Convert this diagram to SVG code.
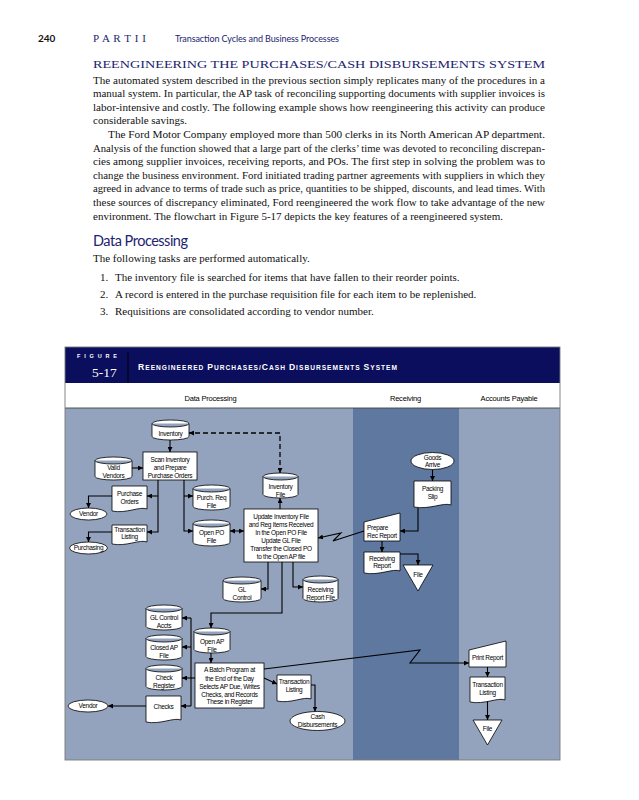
<svg xmlns="http://www.w3.org/2000/svg" width="639" height="800" viewBox="0 0 639 800">
<style>
.pg{font-family:"Liberation Serif","Times New Roman",serif;font-size:11px;fill:#111}
.nv{fill:#1c2470}
.hs{font-family:Lato,"Liberation Sans",sans-serif}
.ft{font-family:"Liberation Sans",Arial,sans-serif;font-size:6.5px;letter-spacing:-0.3px;text-anchor:middle;fill:#000}
.lh{font-family:"Liberation Sans",Arial,sans-serif;font-size:7.5px;letter-spacing:-0.2px;text-anchor:middle;fill:#000}
.sh{fill:#fff;stroke:#000;stroke-width:0.8}
.cn{fill:none;stroke:#000;stroke-width:1.1}
.ar{marker-end:url(#ah)}
.dash{fill:none;stroke:#000;stroke-width:1.3;stroke-dasharray:5,3;marker-start:url(#ah);marker-end:url(#ah)}
</style>
<defs>
<marker id="ah" viewBox="0 0 10 10" refX="10" refY="5" markerWidth="5" markerHeight="5" markerUnits="userSpaceOnUse" orient="auto-start-reverse"><path d="M0,0 L10,5 L0,10 Z" fill="#000"/></marker>
</defs>
<rect width="639" height="800" fill="#fff"/>

<!-- page header -->
<text x="38" y="42" class="hs" font-size="10" font-weight="bold" fill="#111">240</text>
<text x="93" y="42" class="pg nv" font-size="9" textLength="53">P A R T  I I</text>
<text x="175" y="42" class="hs nv" font-size="9" textLength="164">Transaction Cycles and Business Processes</text>

<text x="93" y="67.5" class="pg nv" font-size="15.5" textLength="452" lengthAdjust="spacingAndGlyphs">REENGINEERING THE PURCHASES/CASH DISBURSEMENTS SYSTEM</text>
<text x="93" y="83.5" class="pg" textLength="452" lengthAdjust="spacingAndGlyphs">The automated system described in the previous section simply replicates many of the procedures in a</text>
<text x="93" y="97" class="pg" textLength="452" lengthAdjust="spacingAndGlyphs">manual system. In particular, the AP task of reconciling supporting documents with supplier invoices is</text>
<text x="93" y="110.7" class="pg" textLength="452" lengthAdjust="spacingAndGlyphs">labor-intensive and costly. The following example shows how reengineering this activity can produce</text>
<text x="93" y="124.3" class="pg">considerable savings.</text>
<text x="108" y="137.9" class="pg" textLength="437" lengthAdjust="spacingAndGlyphs">The Ford Motor Company employed more than 500 clerks in its North American AP department.</text>
<text x="93" y="151.5" class="pg" textLength="452" lengthAdjust="spacingAndGlyphs">Analysis of the function showed that a large part of the clerks’ time was devoted to reconciling discrepan-</text>
<text x="93" y="165.1" class="pg" textLength="452" lengthAdjust="spacingAndGlyphs">cies among supplier invoices, receiving reports, and POs. The first step in solving the problem was to</text>
<text x="93" y="178.7" class="pg" textLength="452" lengthAdjust="spacingAndGlyphs">change the business environment. Ford initiated trading partner agreements with suppliers in which they</text>
<text x="93" y="192.3" class="pg" textLength="452" lengthAdjust="spacingAndGlyphs">agreed in advance to terms of trade such as price, quantities to be shipped, discounts, and lead times. With</text>
<text x="93" y="205.9" class="pg" textLength="452" lengthAdjust="spacingAndGlyphs">these sources of discrepancy eliminated, Ford reengineered the work flow to take advantage of the new</text>
<text x="93" y="219.5" class="pg">environment. The flowchart in Figure 5-17 depicts the key features of a reengineered system.</text>
<text x="93" y="246" class="hs nv" font-size="14.5" textLength="95">Data Processing</text>
<text x="93" y="262" class="pg">The following tasks are performed automatically.</text>
<text x="100" y="281" class="pg">1.</text><text x="115" y="281" class="pg">The inventory file is searched for items that have fallen to their reorder points.</text>
<text x="100" y="298" class="pg">2.</text><text x="115" y="298" class="pg">A record is entered in the purchase requisition file for each item to be replenished.</text>
<text x="100" y="315" class="pg">3.</text><text x="115" y="315" class="pg">Requisitions are consolidated according to vendor number.</text>

<!-- figure frame -->
<g id="frame">
<rect x="65" y="347" width="495" height="36" fill="#0a0e5c"/>
<line x1="128" y1="352" x2="128" y2="383" stroke="#000" stroke-width="1"/>
<text x="77" y="358" font-family="Liberation Sans,Arial,sans-serif" font-size="5.5" font-weight="bold" fill="#fff" textLength="40">FIGURE</text>
<text x="92" y="377" font-family="Liberation Serif,Times New Roman,serif" font-size="13.5" fill="#fff">5-17</text>
<text x="138" y="370" font-family="Liberation Sans,Arial,sans-serif" font-size="6.6" font-weight="bold" fill="#fff" textLength="259"><tspan font-size="8.6">R</tspan>EENGINEERED <tspan font-size="8.6">P</tspan>URCHASES/<tspan font-size="8.6">C</tspan>ASH <tspan font-size="8.6">D</tspan>ISBURSEMENTS <tspan font-size="8.6">S</tspan>YSTEM</text>
<rect x="65" y="383" width="495" height="25" fill="#fff"/>
<rect x="65" y="408" width="288" height="352" fill="#94a3bd"/>
<rect x="353" y="408" width="106" height="352" fill="#5e78a0"/>
<rect x="459" y="408" width="101" height="352" fill="#94a3bd"/>
<line x1="65" y1="408" x2="560" y2="408" stroke="#444" stroke-width="0.9"/>
<rect x="65" y="347" width="495" height="413" fill="none" stroke="#7a7a7a" stroke-width="0.9"/>
<text x="210.5" y="400.5" class="lh">Data Processing</text>
<text x="405.5" y="400.5" class="lh">Receiving</text>
<text x="509" y="400.5" class="lh">Accounts Payable</text>
</g>

<!-- connectors -->
<g id="connectors">
<path class="cn ar" d="M170,440 V452"/>
<path class="dash" d="M280,473 V433 H189"/>
<path class="cn ar" d="M132,468 H143"/>
<path class="cn ar" d="M158,480 V532 H147"/>
<path class="cn ar" d="M158,496 H147"/>
<path class="cn ar" d="M112,496 H88.5 V508"/>
<path class="cn ar" d="M112,532 H88.5 V542"/>
<path class="cn ar" d="M184,480 V531 H193"/>
<path class="cn ar" d="M184,496 H193"/>
<path class="cn ar" d="M230,531 H244" style="marker-start:url(#ah)"/>
<path class="cn ar" d="M280,509 V498"/>
<path class="cn ar" d="M268,562 V589 H261"/>
<path class="cn ar" d="M282,562 V613 H211 V628"/>
<path class="cn ar" d="M293,562 V587 H303"/>
<path class="cn ar" d="M364,531 L333,541 L341,533 L318,538"/>
<path class="cn ar" d="M432.5,469 V481"/>
<path class="cn ar" d="M418,508 V531 H400"/>
<path class="cn ar" d="M382,541 V552"/>
<path class="cn ar" d="M400,554 H418 V565"/>
<path class="cn ar" d="M211,653 V663"/>
<path class="cn" d="M191,618 V706"/>
<path class="cn ar" d="M191,618 H182"/>
<path class="cn ar" d="M191,647 H182"/>
<path class="cn ar" d="M195,678 H182"/>
<path class="cn ar" d="M191,706 H181"/>
<path class="cn ar" d="M146,706 H108"/>
<path class="cn ar" d="M264,678 L277,684"/>
<path class="cn ar" d="M311,685 H315 V711.5"/>
<path class="cn ar" d="M264,669 L420,650 L410,663 H469"/>
<path class="cn ar" d="M487.5,667 V677"/>
<path class="cn ar" d="M487.5,701 V720"/>
</g>

<!-- Data Processing nodes -->
<g id="inventory"><path class="sh" d="M152,423.5 A18.5,3.5 0 0 1 189,423.5 V436.5 A18.5,3.5 0 0 1 152,436.5 Z M152,423.5 A18.5,3.5 0 0 0 189,423.5"/><text class="ft" x="170.5" y="435.5">Inventory</text></g>
<g id="valid-vendors"><path class="sh" d="M95,460.5 A18.5,3.5 0 0 1 132,460.5 V476.5 A18.5,3.5 0 0 1 95,476.5 Z M95,460.5 A18.5,3.5 0 0 0 132,460.5"/><text class="ft" x="113.5" y="470">Valid</text><text class="ft" x="113.5" y="478">Vendors</text></g>
<g id="scan"><rect class="sh" x="143" y="452" width="54" height="28"/><text class="ft" x="170" y="461.5">Scan Inventory</text><text class="ft" x="170" y="469.5">and Prepare</text><text class="ft" x="170" y="477.5">Purchase Orders</text></g>
<g id="purchase-orders"><path class="sh" d="M112,486 H147 V509 C140,506 126,514 112,511 Z"/><text class="ft" x="129.5" y="495.5">Purchase</text><text class="ft" x="129.5" y="503.5">Orders</text></g>
<g id="transaction-listing-1"><path class="sh" d="M112,525 H147 V542 C140,539 126,547 112,544 Z"/><text class="ft" x="129.5" y="531.5">Transaction</text><text class="ft" x="129.5" y="539">Listing</text></g>
<g id="vendor-1"><ellipse class="sh" cx="88.5" cy="514" rx="18.5" ry="6"/><text class="ft" x="88.5" y="516.3">Vendor</text></g>
<g id="purchasing"><ellipse class="sh" cx="88.5" cy="548" rx="19" ry="6"/><text class="ft" x="88.5" y="550.3">Purchasing</text></g>
<g id="purch-req-file"><path class="sh" d="M193,488.5 A18.5,3.5 0 0 1 230,488.5 V506.5 A18.5,3.5 0 0 1 193,506.5 Z M193,488.5 A18.5,3.5 0 0 0 230,488.5"/><text class="ft" x="211.5" y="500">Purch. Req</text><text class="ft" x="211.5" y="508">File</text></g>
<g id="open-po-file"><path class="sh" d="M193,523.5 A18.5,3.5 0 0 1 230,523.5 V542.5 A18.5,3.5 0 0 1 193,542.5 Z M193,523.5 A18.5,3.5 0 0 0 230,523.5"/><text class="ft" x="211.5" y="534.5">Open PO</text><text class="ft" x="211.5" y="542.5">File</text></g>
<g id="inventory-file"><path class="sh" d="M263,476.5 A17.5,3.5 0 0 1 298,476.5 V494.5 A17.5,3.5 0 0 1 263,494.5 Z M263,476.5 A17.5,3.5 0 0 0 298,476.5"/><text class="ft" x="280.5" y="488.5">Inventory</text><text class="ft" x="280.5" y="496.5">File</text></g>
<g id="update"><rect class="sh" x="244" y="509" width="74" height="53"/><text class="ft" x="281" y="518.5">Update Inventory File</text><text class="ft" x="281" y="526.5">and Reg Items Received</text><text class="ft" x="281" y="535">In the Open PO File</text><text class="ft" x="281" y="543">Update GL File</text><text class="ft" x="281" y="551">Transfer the Closed PO</text><text class="ft" x="281" y="559">to the Open AP file</text></g>
<g id="gl-control"><path class="sh" d="M223,580.5 A19,3.5 0 0 1 261,580.5 V598.5 A19,3.5 0 0 1 223,598.5 Z M223,580.5 A19,3.5 0 0 0 261,580.5"/><text class="ft" x="242" y="592">GL</text><text class="ft" x="242" y="600">Control</text></g>
<g id="receiving-report-file"><path class="sh" d="M303,579.5 A17.5,3.5 0 0 1 338,579.5 V598.5 A17.5,3.5 0 0 1 303,598.5 Z M303,579.5 A17.5,3.5 0 0 0 338,579.5"/><text class="ft" x="320.5" y="592">Receiving</text><text class="ft" x="320.5" y="600">Report File</text></g>
<g id="gl-control-accts"><path class="sh" d="M146,608.5 A18,3.5 0 0 1 182,608.5 V626.5 A18,3.5 0 0 1 146,626.5 Z M146,608.5 A18,3.5 0 0 0 182,608.5"/><text class="ft" x="164" y="620">GL Control</text><text class="ft" x="164" y="628">Accts</text></g>
<g id="closed-ap-file"><path class="sh" d="M146,638.5 A18,3.5 0 0 1 182,638.5 V656.5 A18,3.5 0 0 1 146,656.5 Z M146,638.5 A18,3.5 0 0 0 182,638.5"/><text class="ft" x="164" y="650">Closed AP</text><text class="ft" x="164" y="658">File</text></g>
<g id="check-register"><path class="sh" d="M146,668.5 A18,3.5 0 0 1 182,668.5 V686.5 A18,3.5 0 0 1 146,686.5 Z M146,668.5 A18,3.5 0 0 0 182,668.5"/><text class="ft" x="164" y="680">Check</text><text class="ft" x="164" y="688">Register</text></g>
<g id="checks"><path class="sh" d="M146,696 H181 V720 C174,717 160,725 146,722 Z"/><text class="ft" x="163.5" y="709">Checks</text></g>
<g id="vendor-2"><ellipse class="sh" cx="88" cy="706" rx="20" ry="6"/><text class="ft" x="88" y="708.3">Vendor</text></g>
<g id="open-ap-file"><path class="sh" d="M194,631.5 A18,3.5 0 0 1 230,631.5 V649.5 A18,3.5 0 0 1 194,649.5 Z M194,631.5 A18,3.5 0 0 0 230,631.5"/><text class="ft" x="212" y="643.5">Open AP</text><text class="ft" x="212" y="651.5">File</text></g>
<g id="batch"><rect class="sh" x="195" y="663" width="69" height="45"/><text class="ft" x="229.5" y="672">A Batch Program at</text><text class="ft" x="229.5" y="680.5">the End of the Day</text><text class="ft" x="229.5" y="688.5">Selects AP Due, Writes</text><text class="ft" x="229.5" y="696.5">Checks, and Records</text><text class="ft" x="229.5" y="704">These in Register</text></g>
<g id="transaction-listing-2"><path class="sh" d="M277,675 H311 V699 C304,696 291,704 277,701 Z"/><text class="ft" x="294" y="684">Transaction</text><text class="ft" x="294" y="692">Listing</text></g>
<g id="cash-disbursements"><ellipse class="sh" cx="317.5" cy="721" rx="27.5" ry="9.5"/><text class="ft" x="317.5" y="718.5">Cash</text><text class="ft" x="317.5" y="726.5">Disbursements</text></g>

<!-- Receiving nodes -->
<g id="goods-arrive"><ellipse class="sh" cx="432.5" cy="461" rx="21.5" ry="8.5"/><text class="ft" x="432.5" y="459.5">Goods</text><text class="ft" x="432.5" y="467">Arrive</text></g>
<g id="packing-slip"><path class="sh" d="M414,481 H451 V505 C444,502 429,510 414,507 Z"/><text class="ft" x="432.5" y="491">Packing</text><text class="ft" x="432.5" y="499">Slip</text></g>
<g id="prepare-rec-report"><path class="sh" d="M364,522 L400,513 V541 H364 Z"/><text class="ft" x="367" y="530" style="text-anchor:start">Prepare</text><text class="ft" x="367" y="538" style="text-anchor:start">Rec Report</text></g>
<g id="receiving-report"><path class="sh" d="M364,552 H400 V571 C393,568 379,576 364,573 Z"/><text class="ft" x="382" y="560.5">Receiving</text><text class="ft" x="382" y="568">Report</text></g>
<g id="file-1"><path class="sh" d="M403,565 H433 L418,591 Z"/><text class="ft" x="418" y="577">File</text></g>

<!-- Accounts Payable nodes -->
<g id="print-report"><path class="sh" d="M469,650 L506,641 V667 H469 Z"/><text class="ft" x="487.5" y="660">Print Report</text></g>
<g id="transaction-listing-3"><path class="sh" d="M470,677 H505 V700 C498,697 484,705 470,702 Z"/><text class="ft" x="487.5" y="687">Transaction</text><text class="ft" x="487.5" y="695">Listing</text></g>
<g id="file-2"><path class="sh" d="M473,720 H502 L487.5,745 Z"/><text class="ft" x="487.5" y="731">File</text></g>
</svg>
